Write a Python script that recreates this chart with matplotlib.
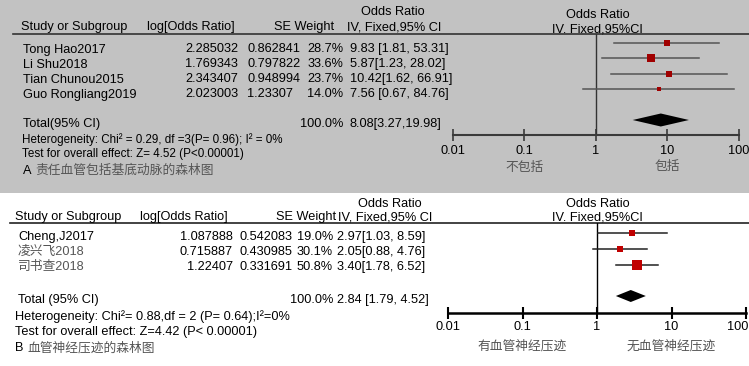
import numpy as np
import matplotlib.pyplot as plt
from matplotlib.patches import Rectangle
from matplotlib.transforms import ScaledTranslation

plt.rcParams['font.family'] = ['Liberation Sans', 'Noto Sans CJK SC', 'DejaVu Sans']

# panel A data
study_a = ['Tong Hao2017', 'Li Shu2018', 'Tian Chunou2015', 'Guo Rongliang2019']
logor_a = [2.285032, 1.769343, 2.343407, 2.023003]
se_a = [0.862841, 0.797822, 0.948994, 1.23307]
weight_a = [28.7, 33.6, 23.7, 14.0]
or_a = [9.83, 5.87, 10.42, 7.56]
lo_a = [1.81, 1.23, 1.62, 0.67]
hi_a = [53.31, 28.02, 66.91, 84.76]
sep_a = [' ', '', '', ' ']
total_a = (8.08, 3.27, 19.98)

# panel B data
study_b = ['Cheng,J2017', '凌兴飞2018', '司书查2018']
logor_b = [1.087888, 0.715887, 1.22407]
se_b = [0.542083, 0.430985, 0.331691]
weight_b = [19.0, 30.1, 50.8]
or_b = [2.97, 2.05, 3.40]
lo_b = [1.03, 0.88, 1.78]
hi_b = [8.59, 4.76, 6.52]
total_b = (2.84, 1.79, 4.52)

ticks = [0.01, 0.1, 1, 10, 100]
tick_labels = ['0.01', '0.1', '1', '10', '100']

W, H = 749, 366
fig = plt.figure(figsize=(W / 100, H / 100), dpi=100)
bg = fig.add_axes([0, 0, 1, 1])
bg.set_xlim(0, W)
bg.set_ylim(H, 0)
bg.axis('off')
bg.add_patch(Rectangle((0, 0), W, 193, color='#c2c2c2', lw=0))

FS = 9.2
GRAY_CN = '#555555'


def t(x, y, s, size=FS, ha='left', color='black'):
    bg.text(x, y, s, fontsize=size, ha=ha, va='center', color=color)


def forest_axes(x0, x1, ytop, ybot):
    ax = fig.add_axes([x0 / W, 1 - ybot / H, (x1 - x0) / W, (ybot - ytop) / H])
    ax.set_xscale('log')
    ax.set_xlim(0.01, 100)
    ax.set_ylim(ybot, ytop)
    ax.patch.set_alpha(0)
    for s in ['top', 'left', 'right']:
        ax.spines[s].set_visible(False)
    ax.set_yticks([])
    ax.set_xticks(ticks)
    ax.set_xticklabels(tick_labels)
    ax.minorticks_off()
    return ax


# ---------------- panel A ----------------
t(393, 12, 'Odds Ratio', ha='center')
t(21, 27, 'Study or Subgroup')
t(147, 27, 'log[Odds Ratio]')
t(334, 27, 'SE Weight', ha='right')
t(347, 27, 'IV, Fixed,95% CI')
t(598, 15, 'Odds Ratio', ha='center')
t(597, 29, 'IV. Fixed,95%CI', ha='center')
bg.plot([13, W], [34, 34], color='#333333', lw=1.2)

for i in range(len(study_a)):
    y = 49 + i * 15
    t(23, y + 1, study_a[i])
    t(238, y, str(logor_a[i]), ha='right')
    t(247, y, str(se_a[i]))
    t(343, y, f'{weight_a[i]:.1f}%', ha='right')
    t(350, y, f'{or_a[i]:.2f}{sep_a[i]}[{lo_a[i]:.2f}, {hi_a[i]:.2f}]')
t(23, 124, 'Total(95% CI)')
t(343, 124, '100.0%', ha='right')
t(350, 124, f'{total_a[0]:.2f}[{total_a[1]:.2f},{total_a[2]:.2f}]')
t(22, 140, 'Heterogeneity: Chi² = 0.29, df =3(P= 0.96); I² = 0%', size=8.4)
t(22, 154, 'Test for overall effect: Z= 4.52 (P<0.00001)', size=8.4)
t(23, 171, 'A', size=FS)
t(35, 171, '责任血管包括基底动脉的森林图', color=GRAY_CN, size=FS)

ax = forest_axes(452.7, 739, 34, 135)
ax.spines['bottom'].set_color('#3a3a3a')
ax.spines['bottom'].set_linewidth(1.5)
ax.tick_params(axis='x', direction='inout', length=8, width=1.2, color='#3a3a3a',
               labelsize=FS, pad=3)
ax.plot([1, 1], [34, 135], color='#333333', lw=1)
for i in range(len(or_a)):
    y = 43 + i * 15.3
    ax.plot([lo_a[i], hi_a[i]], [y, y], color='#555555', lw=1.1)
    ax.plot(or_a[i], y, 's', color='#a00000', ms=1.25 * np.sqrt(weight_a[i]) * 0.72, mew=0)
est, lo, hi = total_a
ax.fill([lo, est, hi, est], [120, 113.5, 120, 126.5], color='black', lw=0)
ax.text(0.1, 168, '不包括', ha='center', va='center', color=GRAY_CN, fontsize=FS, clip_on=False)
ax.text(10, 167, '包括', ha='center', va='center', color=GRAY_CN, fontsize=FS, clip_on=False)

# ---------------- panel B ----------------
t(390, 204, 'Odds Ratio', ha='center')
t(15, 217, 'Study or Subgroup')
t(140, 217, 'log[Odds Ratio]')
t(336, 217, 'SE Weight', ha='right')
t(338, 217, 'IV, Fixed,95% CI')
t(598, 204, 'Odds Ratio', ha='center')
t(597, 218, 'IV. Fixed,95%CI', ha='center')
bg.plot([10, W], [223, 223], color='#222222', lw=1.2)

for i in range(len(study_b)):
    y = 237 + i * 15
    t(18, y, study_b[i], color=('black' if i == 0 else GRAY_CN))
    t(233, y, str(logor_b[i]), ha='right')
    t(293, y, str(se_b[i]), ha='right')
    t(333, y, f'{weight_b[i]:.1f}%', ha='right')
    t(337, y, f'{or_b[i]:.2f}[{lo_b[i]:.2f}, {hi_b[i]:.2f}]')
t(18, 300, 'Total (95% CI)')
t(333, 300, '100.0%', ha='right')
t(337, 300, f'{total_b[0]:.2f} [{total_b[1]:.2f}, {total_b[2]:.2f}]')
t(15, 317, 'Heterogeneity: Chi²= 0.88,df = 2 (P= 0.64);I²=0%', size=FS)
t(15, 332, 'Test for overall effect: Z=4.42 (P< 0.00001)', size=FS)
t(15, 348, 'B', size=FS)
t(27, 348, '血管神经压迹的森林图', color=GRAY_CN, size=FS)

bx = forest_axes(448, 746, 223, 313)
bx.spines['bottom'].set_color('black')
bx.spines['bottom'].set_linewidth(1.8)
bx.tick_params(axis='x', direction='inout', length=8, width=1.5, color='black',
               labelsize=FS, pad=2)
# last label sits against the right edge, as in the original
last = bx.get_xticklabels()[-1]
last.set_ha('right')
last.set_transform(last.get_transform() + ScaledTranslation(0.02, 0, fig.dpi_scale_trans))
bx.plot([1, 1], [223, 313], color='black', lw=1)
for i in range(len(or_b)):
    y = 233 + i * 16
    bx.plot([lo_b[i], hi_b[i]], [y, y], color='#222222', lw=1.1)
    bx.plot(or_b[i], y, 's', color='#c00000', ms=(2 + 0.16 * weight_b[i]) * 0.72, mew=0)
est, lo, hi = total_b
bx.fill([lo, est, hi, est], [296, 290, 296, 302], color='black', lw=0)
bx.text(0.1, 346, '有血管神经压迹', ha='center', va='center', color=GRAY_CN, fontsize=FS, clip_on=False)
bx.text(10, 346, '无血管神经压迹', ha='center', va='center', color=GRAY_CN, fontsize=FS, clip_on=False)

fig.savefig('out.png', dpi=100)
